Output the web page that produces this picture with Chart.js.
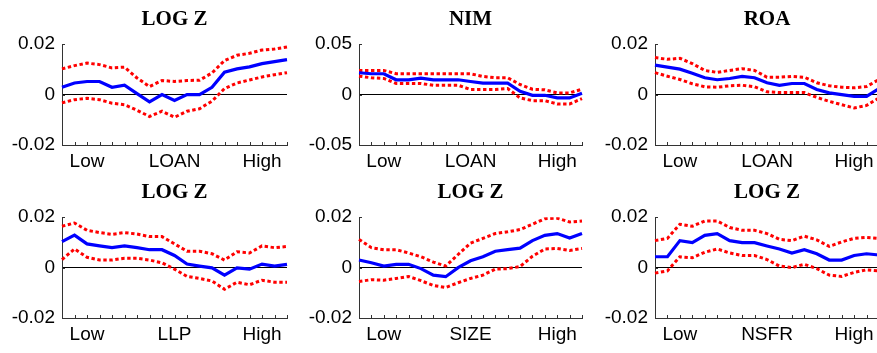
<!DOCTYPE html>
<html>
<head>
<meta charset="utf-8">
<script src="https://cdn.jsdelivr.net/npm/chart.js@4"></script>
<style>
  html, body { margin: 0; padding: 0; background: #fff; }
  body { width: 877px; height: 353px; overflow: hidden; position: relative; }
  canvas { position: absolute; }
</style>
</head>
<body>
<canvas id="c1"></canvas>
<canvas id="c2"></canvas>
<canvas id="c3"></canvas>
<canvas id="c4"></canvas>
<canvas id="c5"></canvas>
<canvas id="c6"></canvas>
<script>
// ---------- data ----------
const loanCats = ['', '', 'Low', '', '', '', '', '', '', 'LOAN', '', '', '', '', '', '', 'High', '', ''];
const llpCats  = ['', '', 'Low', '', '', '', '', '', '', 'LLP',  '', '', '', '', '', '', 'High', '', ''];
const sizeCats = ['', '', 'Low', '', '', '', '', '', '', 'SIZE', '', '', '', '', '', '', 'High', '', ''];
const nsfrCats = ['', '', 'Low', '', '', '', '', '', '', 'NSFR', '', '', '', '', '', '', 'High', '', ''];

const yTickVals02 = [-0.02, 0, 0.02];
const yTickLabels02 = ['-0.02', '0', '0.02'];
const yTickVals05 = [-0.05, 0, 0.05];
const yTickLabels05 = ['-0.05', '0', '0.05'];

const titles = ['LOG Z', 'NIM', 'ROA', 'LOG Z', 'LOG Z', 'LOG Z'];

// Panel 1: LOG Z vs LOAN
const est1 = [0.0029, 0.0046, 0.0052, 0.0052, 0.0029, 0.0037, 0.0004, -0.0029, 0.0000, -0.0023, 0.0000, 0.0000, 0.0029, 0.0089, 0.0102, 0.0110, 0.0123, 0.0131, 0.0139];
const up1  = [0.0102, 0.0115, 0.0125, 0.0119, 0.0106, 0.0109, 0.0066, 0.0032, 0.0056, 0.0052, 0.0056, 0.0057, 0.0086, 0.0135, 0.0156, 0.0164, 0.0177, 0.0181, 0.0189];
const lo1  = [-0.0033, -0.0020, -0.0015, -0.0020, -0.0034, -0.0040, -0.0062, -0.0087, -0.0066, -0.0090, -0.0066, -0.0056, -0.0026, 0.0024, 0.0046, 0.0058, 0.0070, 0.0079, 0.0087];

// Panel 2: NIM vs LOAN
const est2 = [0.0217, 0.0207, 0.0207, 0.0147, 0.0147, 0.0163, 0.0147, 0.0147, 0.0147, 0.0130, 0.0113, 0.0113, 0.0113, 0.0033, -0.0007, -0.0007, -0.0033, -0.0033, 0.0013];
const up2  = [0.0240, 0.0240, 0.0240, 0.0207, 0.0207, 0.0207, 0.0207, 0.0207, 0.0207, 0.0207, 0.0180, 0.0167, 0.0167, 0.0100, 0.0053, 0.0047, 0.0017, 0.0017, 0.0053];
const lo2  = [0.0183, 0.0167, 0.0160, 0.0110, 0.0110, 0.0110, 0.0093, 0.0093, 0.0093, 0.0050, 0.0050, 0.0050, 0.0060, -0.0033, -0.0060, -0.0060, -0.0093, -0.0093, -0.0040];

// Panel 3: ROA vs LOAN
const est3 = [0.0117, 0.0109, 0.0101, 0.0085, 0.0067, 0.0059, 0.0064, 0.0072, 0.0067, 0.0047, 0.0037, 0.0044, 0.0044, 0.0020, 0.0007, 0.0000, -0.0007, -0.0007, 0.0024];
const up3  = [0.0147, 0.0140, 0.0144, 0.0123, 0.0096, 0.0088, 0.0096, 0.0103, 0.0096, 0.0069, 0.0069, 0.0072, 0.0069, 0.0047, 0.0035, 0.0029, 0.0027, 0.0032, 0.0060];
const lo3  = [0.0087, 0.0073, 0.0060, 0.0043, 0.0031, 0.0029, 0.0035, 0.0037, 0.0031, 0.0011, 0.0008, 0.0008, 0.0008, -0.0011, -0.0027, -0.0040, -0.0053, -0.0043, -0.0013];

// Panel 4: LOG Z vs LLP
const est4 = [0.0103, 0.0129, 0.0094, 0.0086, 0.0079, 0.0086, 0.0079, 0.0071, 0.0071, 0.0048, 0.0014, 0.0006, -0.0001, -0.0030, -0.0001, -0.0006, 0.0014, 0.0006, 0.0013];
const up4  = [0.0164, 0.0177, 0.0148, 0.0139, 0.0132, 0.0139, 0.0133, 0.0123, 0.0123, 0.0094, 0.0065, 0.0065, 0.0055, 0.0030, 0.0063, 0.0058, 0.0086, 0.0079, 0.0084];
const lo4  = [0.0032, 0.0074, 0.0041, 0.0030, 0.0030, 0.0037, 0.0037, 0.0030, 0.0019, -0.0006, -0.0035, -0.0043, -0.0053, -0.0086, -0.0058, -0.0068, -0.0050, -0.0058, -0.0058];

// Panel 5: LOG Z vs SIZE
const est5 = [0.0030, 0.0019, 0.0006, 0.0013, 0.0013, -0.0004, -0.0030, -0.0036, 0.0000, 0.0027, 0.0043, 0.0065, 0.0071, 0.0077, 0.0107, 0.0128, 0.0135, 0.0117, 0.0135];
const up5  = [0.0112, 0.0079, 0.0071, 0.0071, 0.0058, 0.0043, 0.0022, 0.0006, 0.0052, 0.0097, 0.0116, 0.0135, 0.0142, 0.0151, 0.0172, 0.0194, 0.0196, 0.0181, 0.0185];
const lo5  = [-0.0055, -0.0048, -0.0050, -0.0043, -0.0035, -0.0052, -0.0071, -0.0079, -0.0060, -0.0043, -0.0030, -0.0006, -0.0004, 0.0004, 0.0045, 0.0074, 0.0076, 0.0068, 0.0076];

// Panel 6: LOG Z vs NSFR
const est6 = [0.0043, 0.0043, 0.0107, 0.0099, 0.0128, 0.0135, 0.0107, 0.0099, 0.0099, 0.0086, 0.0074, 0.0058, 0.0071, 0.0055, 0.0030, 0.0030, 0.0048, 0.0055, 0.0050];
const up6  = [0.0107, 0.0116, 0.0172, 0.0164, 0.0185, 0.0185, 0.0159, 0.0148, 0.0148, 0.0135, 0.0112, 0.0107, 0.0125, 0.0110, 0.0084, 0.0102, 0.0116, 0.0120, 0.0116];
const lo6  = [-0.0022, -0.0013, 0.0043, 0.0039, 0.0061, 0.0074, 0.0058, 0.0048, 0.0048, 0.0032, 0.0006, 0.0000, 0.0013, -0.0004, -0.0030, -0.0035, -0.0019, -0.0009, -0.0013];

// ---------- layout / style ----------
Chart.defaults.font.family = "'Liberation Sans', Arial, sans-serif";
Chart.defaults.font.size = 19;
Chart.defaults.color = '#000';
Chart.defaults.devicePixelRatio = 1;

const AXIS_COLOR = '#333';

const inwardTicks = {
  id: 'inwardTicks',
  afterDatasetsDraw(chart) {
    const { ctx, chartArea } = chart;
    const x = chart.scales.x, y = chart.scales.y;
    ctx.save();
    ctx.strokeStyle = AXIS_COLOR;
    ctx.lineWidth = 1;
    x.ticks.forEach((t, i) => {
      const px = Math.round(x.getPixelForTick(i)) + 0.5;
      ctx.beginPath();
      ctx.moveTo(px, chartArea.bottom);
      ctx.lineTo(px, chartArea.bottom - 3);
      ctx.stroke();
    });
    y.ticks.forEach((t, i) => {
      const py = Math.round(y.getPixelForTick(i)) + 0.5;
      ctx.beginPath();
      ctx.moveTo(chartArea.left, py);
      ctx.lineTo(chartArea.left + 3, py);
      ctx.stroke();
    });
    ctx.restore();
  }
};

function makePanel(id, pos, title, cats, est, up, lo, yVals, yLabels) {
  const cv = document.getElementById(id);
  cv.width = pos.w; cv.height = pos.h;
  cv.style.left = pos.left + 'px';
  cv.style.top = pos.top + 'px';
  cv.style.width = pos.w + 'px';
  cv.style.height = pos.h + 'px';
  return new Chart(cv, {
    type: 'line',
    data: {
      labels: cats,
      datasets: [
        { data: est, borderColor: '#0000ff', borderWidth: 3.2, pointRadius: 0, tension: 0, fill: false },
        { data: up, borderColor: '#ff0000', borderWidth: 3, borderDash: [3.4, 2.6], borderCapStyle: 'butt', pointRadius: 0, tension: 0, fill: false },
        { data: lo, borderColor: '#ff0000', borderWidth: 3, borderDash: [3.4, 2.6], borderCapStyle: 'butt', pointRadius: 0, tension: 0, fill: false }
      ]
    },
    options: {
      responsive: false,
      animation: false,
      events: [],
      layout: { padding: { left: 0, right: 4, top: 0, bottom: 0 } },
      plugins: {
        legend: { display: false },
        tooltip: { enabled: false },
        title: {
          display: true,
          text: title,
          fullSize: false,
          color: '#000',
          font: { family: "'Liberation Serif', 'Times New Roman', serif", size: 21, weight: 'bold', lineHeight: 1.2 },
          padding: { top: 6.5, bottom: 12.5 }
        }
      },
      scales: {
        x: {
          type: 'category',
          offset: false,
          grid: { display: false, drawTicks: false },
          border: { display: true, color: AXIS_COLOR, width: 1 },
          ticks: { autoSkip: false, maxRotation: 0, minRotation: 0, padding: 5, color: '#000' },
          afterFit: s => { s.height = pos.xh; }
        },
        y: {
          type: 'linear',
          min: yVals[0],
          max: yVals[yVals.length - 1],
          afterBuildTicks: s => { s.ticks = yVals.map(v => ({ value: v })); },
          grid: {
            display: true,
            drawTicks: false,
            drawOnChartArea: true,
            lineWidth: 1,
            color: c => (c.tick && c.tick.value === 0) ? '#000' : 'rgba(0,0,0,0)'
          },
          border: { display: true, color: AXIS_COLOR, width: 1 },
          ticks: {
            padding: 7,
            color: '#000',
            callback: (v) => {
              const i = yVals.indexOf(v);
              return i >= 0 ? yLabels[i] : '';
            }
          },
          afterFit: s => { s.width = pos.yw; }
        }
      }
    },
    plugins: [inwardTicks]
  });
}

const row0 = { top: 0, h: 173, xh: 28 };
const row1 = { top: 173, h: 180, xh: 35 };
const col0 = { left: 0, w: 292, yw: 62 };
const col1 = { left: 292, w: 295, yw: 67 };
const col2 = { left: 587, w: 297, yw: 68 };
const P = (c, r) => ({ left: c.left, w: c.w, yw: c.yw, top: r.top, h: r.h, xh: r.xh });

makePanel('c1', P(col0, row0), titles[0], loanCats, est1, up1, lo1, yTickVals02, yTickLabels02);
makePanel('c2', P(col1, row0), titles[1], loanCats, est2, up2, lo2, yTickVals05, yTickLabels05);
makePanel('c3', P(col2, row0), titles[2], loanCats, est3, up3, lo3, yTickVals02, yTickLabels02);
makePanel('c4', P(col0, row1), titles[3], llpCats,  est4, up4, lo4, yTickVals02, yTickLabels02);
makePanel('c5', P(col1, row1), titles[4], sizeCats, est5, up5, lo5, yTickVals02, yTickLabels02);
makePanel('c6', P(col2, row1), titles[5], nsfrCats, est6, up6, lo6, yTickVals02, yTickLabels02);
</script>
</body>
</html>
